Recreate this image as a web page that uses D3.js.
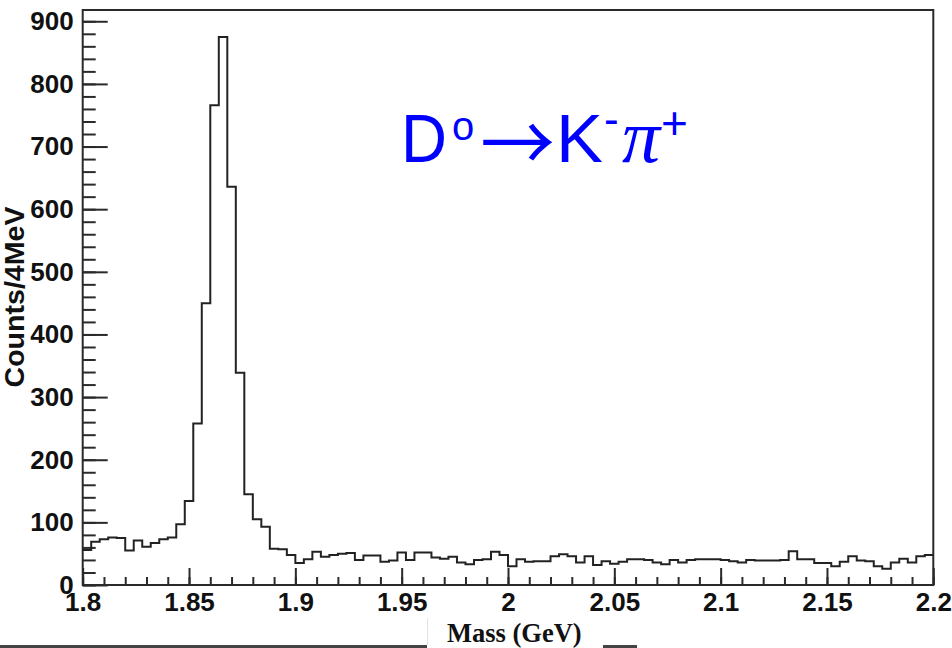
<!DOCTYPE html>
<html>
<head>
<meta charset="utf-8">
<script src="https://cdn.jsdelivr.net/npm/d3@7"></script>
<style>
  html, body { margin: 0; padding: 0; background: #fff; }
  svg { display: block; }
</style>
</head>
<body>
<svg id="chart" width="952" height="648"></svg>
<script>
// D0 -> K- pi+ invariant mass spectrum, 4 MeV bins from 1.8 to 2.2 GeV
const massMin = 1.8;
const massMax = 2.2;
const binWidth = 0.004;
const counts = [
  56, 69, 73, 76, 75, 55, 71, 61, 67, 73,
  76, 97, 134, 258, 450, 766, 875, 636, 339, 145,
  105, 93, 58, 57, 48, 35, 41, 53, 45, 48,
  50, 51, 40, 47, 47, 37, 39, 52, 40, 52,
  52, 44, 42, 45, 36, 33, 40, 41, 53, 48,
  30, 41, 37, 38, 38, 46, 49, 46, 36, 46,
  32, 38, 34, 37, 41, 41, 40, 36, 33, 40,
  36, 40, 41, 41, 41, 40, 38, 36, 40, 39,
  39, 39, 40, 54, 41, 41, 35, 35, 30, 37,
  46, 39, 38, 30, 26, 36, 42, 36, 46, 48
];
const countMax = 918;
const xMajorTicks = [1.8, 1.85, 1.9, 1.95, 2.0, 2.05, 2.1, 2.15, 2.2];
const xTickLabels = ["1.8", "1.85", "1.9", "1.95", "2", "2.05", "2.1", "2.15", "2.2"];
const xMinorTicks = d3.range(0, 41).map(i => +(1.8 + i * 0.01).toFixed(2));
const yMajorTicks = [0, 100, 200, 300, 400, 500, 600, 700, 800, 900];
const yMinorTicks = d3.range(0, 46).map(i => i * 20);

const svg = d3.select("#chart");
const plotLeft = 82.7, plotRight = 933.3, plotTop = 10, plotBottom = 585;

const x = d3.scaleLinear().domain([massMin, massMax]).range([plotLeft, plotRight]);
const y = d3.scaleLinear().domain([0, countMax]).range([plotBottom, plotTop]);

const axisColor = "#2a2a2a";
const labelFont = "'Liberation Sans', Arial, Helvetica, sans-serif";

// minor ticks (x)
svg.append("g")
  .attr("transform", `translate(0,${plotBottom})`)
  .call(d3.axisBottom(x).tickValues(xMinorTicks).tickSize(-8).tickFormat(""))
  .call(g => g.select(".domain").remove())
  .call(g => g.selectAll("line").attr("stroke", axisColor).attr("stroke-width", 2));

// major ticks + labels (x)
svg.append("g")
  .attr("transform", `translate(0,${plotBottom})`)
  .call(d3.axisBottom(x).tickValues(xMajorTicks).tickSize(-17).tickPadding(8)
    .tickFormat((d, i) => xTickLabels[i]))
  .call(g => g.select(".domain").remove())
  .call(g => g.selectAll("line").attr("stroke", axisColor).attr("stroke-width", 2))
  .call(g => g.selectAll("text")
    .attr("font-family", labelFont).attr("font-weight", "bold")
    .attr("font-size", 26).attr("fill", "#111"));

// minor ticks (y)
svg.append("g")
  .attr("transform", `translate(${plotLeft},0)`)
  .call(d3.axisLeft(y).tickValues(yMinorTicks.filter(v => v <= countMax)).tickSize(-13).tickFormat(""))
  .call(g => g.select(".domain").remove())
  .call(g => g.selectAll("line").attr("stroke", axisColor).attr("stroke-width", 2));

// major ticks + labels (y)
svg.append("g")
  .attr("transform", `translate(${plotLeft},0)`)
  .call(d3.axisLeft(y).tickValues(yMajorTicks).tickSize(-25).tickPadding(9).tickFormat(d3.format("d")))
  .call(g => g.select(".domain").remove())
  .call(g => g.selectAll("line").attr("stroke", axisColor).attr("stroke-width", 2))
  .call(g => g.selectAll("text")
    .attr("font-family", labelFont).attr("font-weight", "bold")
    .attr("font-size", 26).attr("fill", "#111"));

// frame
svg.append("rect")
  .attr("x", plotLeft).attr("y", plotTop)
  .attr("width", plotRight - plotLeft).attr("height", plotBottom - plotTop)
  .attr("fill", "none").attr("stroke", axisColor).attr("stroke-width", 2);

// histogram outline
const edges = counts.map((c, i) => ({ m: massMin + i * binWidth, c }));
edges.push({ m: massMax, c: counts[counts.length - 1] });
const step = d3.line()
  .x(d => x(d.m))
  .y(d => y(d.c))
  .curve(d3.curveStepAfter);
svg.append("path")
  .datum(edges)
  .attr("d", step)
  .attr("fill", "none")
  .attr("stroke", "#222")
  .attr("stroke-width", 2);

// y-axis title
svg.append("text")
  .attr("transform", "translate(24,297) rotate(-90)")
  .attr("text-anchor", "middle")
  .attr("font-family", labelFont).attr("font-weight", "bold")
  .attr("font-size", 27)
  .attr("textLength", 181).attr("lengthAdjust", "spacingAndGlyphs")
  .attr("fill", "#111")
  .text("Counts/4MeV");

// decay label
const blue = "#0000ff";
const title = svg.append("text")
  .attr("font-family", labelFont)
  .attr("fill", blue);
title.append("tspan").attr("x", 401).attr("y", 162).attr("font-size", 68)
  .attr("textLength", 46).attr("lengthAdjust", "spacingAndGlyphs").text("D");
title.append("tspan").attr("x", 452).attr("y", 140).attr("font-size", 40).text("o");
title.append("tspan").attr("x", 556).attr("y", 162).attr("font-size", 68)
  .attr("textLength", 47).attr("lengthAdjust", "spacingAndGlyphs").text("K");
title.append("tspan").attr("x", 604).attr("y", 134).attr("font-size", 44).text("-");
title.append("tspan").attr("x", 622).attr("y", 162).attr("font-size", 76)
  .attr("font-family", "'Liberation Serif', 'Times New Roman', serif")
  .attr("font-style", "italic").text("π");
title.append("tspan").attr("x", 661).attr("y", 139).attr("font-size", 46).text("+");

// arrow between D0 and K-, its glyph ink fitted into a box
const arrowChar = "→";
const arrowFamily = "'Noto Sans CJK JP'";
const arrowSize = 80;
const arrowBox = { x0: 483, x1: 553, y0: 124, y1: 162 };
const ctx = document.createElement("canvas").getContext("2d");
ctx.font = `${arrowSize}px ${arrowFamily}`;
const m = ctx.measureText(arrowChar);
const inkLeft = -m.actualBoundingBoxLeft;
const inkW = m.actualBoundingBoxLeft + m.actualBoundingBoxRight;
const inkTop = -m.actualBoundingBoxAscent;
const inkH = m.actualBoundingBoxAscent + m.actualBoundingBoxDescent;
const sx = (arrowBox.x1 - arrowBox.x0) / inkW;
const sy = (arrowBox.y1 - arrowBox.y0) / inkH;
svg.append("text")
  .attr("font-family", arrowFamily)
  .attr("font-size", arrowSize)
  .attr("fill", blue)
  .attr("transform",
    `translate(${arrowBox.x0 - inkLeft * sx},${arrowBox.y0 - inkTop * sy}) scale(${sx},${sy})`)
  .text(arrowChar);

// x-axis title strip along the bottom
svg.append("rect").attr("x", 0).attr("y", 645).attr("width", 427).attr("height", 3).attr("fill", "#444");
svg.append("rect").attr("x", 603).attr("y", 645).attr("width", 34).attr("height", 3).attr("fill", "#444");
svg.append("line").attr("x1", 427.5).attr("x2", 427.5).attr("y1", 618).attr("y2", 645)
  .attr("stroke", "#e2e2e2").attr("stroke-width", 1);
svg.append("text")
  .attr("x", 447).attr("y", 642)
  .attr("font-family", "'Liberation Serif', 'Times New Roman', serif")
  .attr("font-weight", "bold").attr("font-size", 26.5)
  .attr("fill", "#111")
  .text("Mass (GeV)");
</script>
</body>
</html>
